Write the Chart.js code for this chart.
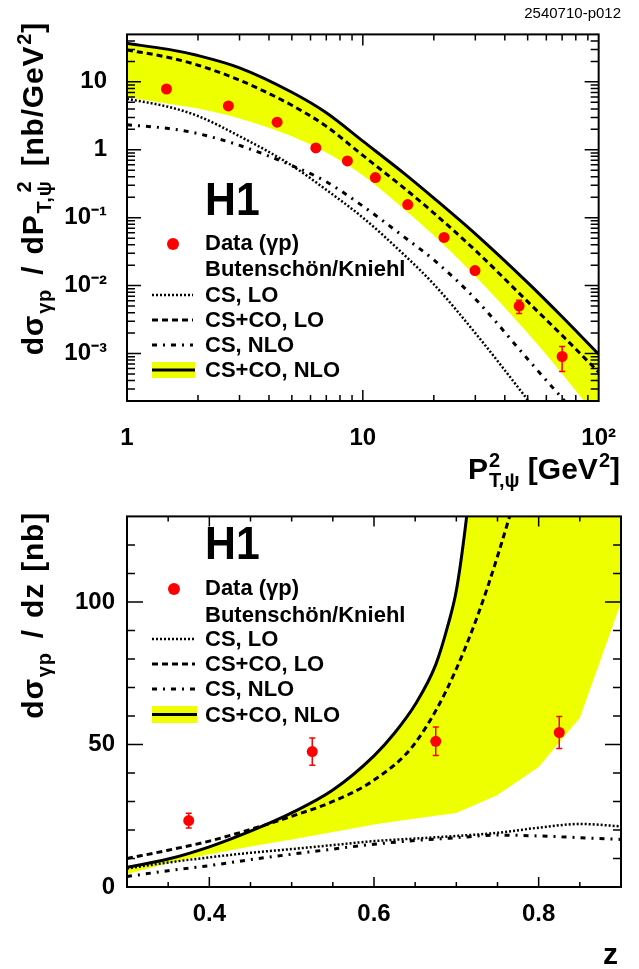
<!DOCTYPE html>
<html><head><meta charset="utf-8">
<script src="https://cdn.jsdelivr.net/npm/chart.js@4.4.1/dist/chart.umd.min.js"></script>
<style>
html,body{margin:0;padding:0;background:#fff;}
body{width:639px;height:969px;position:relative;overflow:hidden;font-family:"Liberation Sans",Arial,Helvetica,sans-serif;font-weight:bold;color:#000;}
canvas{position:absolute;left:0;}
#c1{top:0;} #c2{top:490px;}
.t{position:absolute;white-space:nowrap;}
.ttl{font-size:30px;line-height:30px;}
.sb{position:relative;top:8px;font-size:20px;margin-left:1px;}
.sp{position:relative;top:-12px;font-size:20px;margin-left:1px;}
.ss{display:inline-grid;font-size:20px;line-height:20px;margin-left:1px;}
.ss>span{grid-area:1/1;position:relative;}
.ss>.u{top:-12px;} .ss>.d{top:8px;}
.yt{left:0;top:0;width:420px;text-align:right;transform-origin:0 0;word-spacing:2px;letter-spacing:0.8px;}
.yt .sb,.yt .ss{margin-right:3px;}
#yt1{transform:translate(18px,442px) rotate(-90deg);}
#yt2{transform:translate(18px,932px) rotate(-90deg);}
.lg{font-size:22px;line-height:22px;}
.h1{font-size:46px;line-height:46px;transform:scaleX(0.93);transform-origin:0 0;}
#id{font-weight:normal;font-size:15px;line-height:15px;right:18px;top:5px;}
svg{position:absolute;left:0;top:0;}
</style>
</head><body>
<canvas id="c1" width="639" height="490"></canvas>
<canvas id="c2" width="639" height="479"></canvas>

<div class="t" id="id">2540710-p012</div>
<div class="t ttl yt" id="yt1">dσ<span class="sb">γp</span> / dP<span class="ss"><span class="u">2</span><span class="d">T,ψ</span></span> [nb/GeV<span class="sp">2</span>]</div>
<div class="t ttl yt" id="yt2">dσ<span class="sb">γp</span> / dz [nb]</div>
<div class="t ttl" style="right:19px;top:454px;">P<span class="ss"><span class="u">2</span><span class="d">T,ψ</span></span> [GeV<span class="sp">2</span>]</div>
<div class="t ttl" style="right:21px;top:939px;">z</div>

<div class="t h1" style="left:205px;top:176px;">H1</div>
<div class="t lg" style="left:205px;top:232px;">Data (γp)</div>
<div class="t lg" style="left:205px;top:258px;">Butenschön/Kniehl</div>
<div class="t lg" style="left:205px;top:284px;">CS, LO</div>
<div class="t lg" style="left:205px;top:309px;">CS+CO, LO</div>
<div class="t lg" style="left:205px;top:334px;">CS, NLO</div>
<div class="t lg" style="left:205px;top:359px;">CS+CO, NLO</div>

<div class="t h1" style="left:205px;top:520px;">H1</div>
<div class="t lg" style="left:205px;top:577px;">Data (γp)</div>
<div class="t lg" style="left:205px;top:604px;">Butenschön/Kniehl</div>
<div class="t lg" style="left:205px;top:628px;">CS, LO</div>
<div class="t lg" style="left:205px;top:653px;">CS+CO, LO</div>
<div class="t lg" style="left:205px;top:678px;">CS, NLO</div>
<div class="t lg" style="left:205px;top:704px;">CS+CO, NLO</div>

<svg width="639" height="969">
  <g>
    <circle cx="173" cy="244" r="6" fill="#ff0000"/>
    <line x1="152" x2="193" y1="295" y2="295" stroke="#000" stroke-width="2.5" stroke-dasharray="2 2"/>
    <line x1="152" x2="193" y1="320" y2="320" stroke="#000" stroke-width="3" stroke-dasharray="6 4"/>
    <line x1="152" x2="193" y1="345" y2="345" stroke="#000" stroke-width="3" stroke-dasharray="5 6 2 6"/>
    <rect x="152" y="362" width="43" height="16" fill="rgb(238,255,0)"/>
    <line x1="152" x2="195" y1="370" y2="370" stroke="#000" stroke-width="3"/>
  </g>
  <g>
    <circle cx="174" cy="589" r="6" fill="#ff0000"/>
    <line x1="152" x2="195" y1="639" y2="639" stroke="#000" stroke-width="2.5" stroke-dasharray="2 2"/>
    <line x1="152" x2="195" y1="664" y2="664" stroke="#000" stroke-width="3" stroke-dasharray="6 4"/>
    <line x1="152" x2="195" y1="689" y2="689" stroke="#000" stroke-width="3" stroke-dasharray="5 6 2 6"/>
    <rect x="152" y="706" width="45" height="17" fill="rgb(238,255,0)"/>
    <line x1="152" x2="197" y1="714.5" y2="714.5" stroke="#000" stroke-width="3"/>
  </g>
</svg>

<script>
// ---------------- data : top panel, d sigma / d P_T^2 ----------------
const pt2Centers = [1.47, 2.69, 4.33, 6.32, 8.6, 11.3, 15.5, 22.1, 29.9, 46.0, 70.0];
const pt2Data    = [7.85, 4.42, 2.55, 1.065, 0.686, 0.39, 0.156, 0.0513, 0.01664, 0.0050, 0.000904];
const pt2Err     = [0.55, 0.30, 0.17, 0.07, 0.045, 0.026, 0.011, 0.0038, 0.0013, 0.0011, 0.00036];
const pt2Grid    = [1, 1.5, 2, 3, 5, 7, 10, 15, 20, 30, 50, 70, 100];
const pt2CsLo    = [5.63, 4.28, 3.14, 1.585, 0.587, 0.257, 0.1004, 0.0282, 0.01047, 0.0020, 0.000208, 4.45e-5, 8.5e-6];
const pt2CsCoLo  = [29.5, 22.9, 17.6, 10.6, 4.52, 2.21, 0.826, 0.271, 0.1172, 0.033, 0.0058, 0.00185, 0.000532];
const pt2CsNlo   = [2.33, 2.06, 1.73, 1.16, 0.587, 0.338, 0.148, 0.0518, 0.0239, 0.00637, 0.000828, 0.00022, 5.5e-5];
const pt2CsCoNlo = [36.7, 30.1, 24.4, 16.1, 7.03, 3.51, 1.34, 0.446, 0.1945, 0.0578, 0.01107, 0.00348, 0.000975];
const pt2CsCoNloLow = [5.95, 4.77, 4.05, 2.90, 1.585, 0.912, 0.422, 0.1324, 0.0547, 0.01377, 0.0020, 0.000504, 0.000107];
const pt2XTicks  = [1, 10, 100];
const pt2XLabels = ['1', '10', '10²'];
const pt2YTicks  = [0.001, 0.01, 0.1, 1, 10];
const pt2YLabels = ['10⁻³', '10⁻²', '10⁻¹', '1', '10'];

// ---------------- data : bottom panel, d sigma / dz ----------------
const zCenters = [0.375, 0.525, 0.675, 0.825];
const zData    = [23.3, 47.5, 51.1, 54.2];
const zErr     = [2.6, 4.8, 5.0, 5.6];
const zGrid    = [0.30, 0.35, 0.40, 0.45, 0.50, 0.55, 0.60, 0.65, 0.70, 0.75, 0.80, 0.85, 0.90];
const zCsLo    = [6.5, 8.6, 10.4, 12.0, 13.3, 14.7, 16.1, 17.0, 17.9, 19.0, 20.8, 22.1, 21.3];
const zCsCoLo  = [10.0, 12.9, 16.1, 20.2, 24.8, 30.0, 37.5, 50.5, 76.5, 116, 170, 250, 350];
const zCsNlo   = [3.7, 5.7, 7.5, 9.6, 11.5, 13.3, 15.0, 16.3, 17.3, 18.2, 17.9, 17.3, 16.7];
const zGridNlo = [0.30, 0.35, 0.40, 0.45, 0.50, 0.55, 0.60, 0.625, 0.65, 0.675, 0.69, 0.70, 0.71, 0.72, 0.75, 0.80, 0.90];
const zCsCoNlo = [6.9, 9.8, 14.1, 19.6, 26.0, 34.0, 46.0, 54.0, 64.0, 78.0, 92.0, 104.0, 124.0, 150.0, 260, 500, 1500];
const zCsCoNloLow = [4.6, 8.3, 11.5, 14.2, 16.7, 19.3, 21.9, 24.0, 26.0, 32.3, 42.1, 59.4, 99.8];
const zXTicks  = [0.4, 0.6, 0.8];
const zXLabels = ['0.4', '0.6', '0.8'];
const zYTicks  = [0, 50, 100];
const zYLabels = ['0', '50', '100'];

// ---------------- styling ----------------
const FONT = "'Liberation Sans', Arial, Helvetica, sans-serif";
const YELLOW = 'rgb(238,255,0)';
const RED = '#ff0000';
const pts = (xs, ys) => xs.map((x, i) => ({x, y: ys[i]}));

const minorLog = (lo, hi) => { const r = []; for (let e = lo; e <= hi; e++) for (let k = 2; k <= 9; k++) r.push(k * Math.pow(10, e)); return r; };

const frameTicks = {
  id: 'frameTicks',
  afterDatasetsDraw(chart, args, o) {
    const {ctx, chartArea: a} = chart;
    const xs = chart.scales.x, ys = chart.scales.y;
    ctx.save();
    ctx.strokeStyle = '#000';
    ctx.lineWidth = 1.5;
    ctx.beginPath();
    const vx = (vals, len) => vals.forEach(v => {
      const p = xs.getPixelForValue(v);
      if (p <= a.left + 1 || p >= a.right - 1) return;
      ctx.moveTo(p, a.bottom); ctx.lineTo(p, a.bottom - len);
      ctx.moveTo(p, a.top); ctx.lineTo(p, a.top + len);
    });
    const vy = (vals, len) => vals.forEach(v => {
      const p = ys.getPixelForValue(v);
      if (p <= a.top + 1 || p >= a.bottom - 1) return;
      ctx.moveTo(a.left, p); ctx.lineTo(a.left + len, p);
      ctx.moveTo(a.right, p); ctx.lineTo(a.right - len, p);
    });
    vx(o.xMajor, o.xMajorLen); vx(o.xMinor, o.xMinorLen);
    vy(o.yMajor, o.yMajorLen); vy(o.yMinor, o.yMinorLen);
    ctx.stroke();
    ctx.lineWidth = 2;
    ctx.strokeRect(a.left, a.top, a.right - a.left, a.bottom - a.top);
    ctx.restore();
  }
};

const errorBars = {
  id: 'errorBars',
  beforeDatasetDraw(chart, args, o) {
    if (args.index !== o.index) return;
    const {ctx, chartArea: a} = chart;
    const xs = chart.scales.x, ys = chart.scales.y;
    const data = chart.data.datasets[o.index].data;
    ctx.save();
    ctx.beginPath(); ctx.rect(a.left, a.top, a.right - a.left, a.bottom - a.top); ctx.clip();
    ctx.strokeStyle = RED; ctx.lineWidth = 1.5;
    ctx.beginPath();
    data.forEach((d, i) => {
      const e = o.errors[i];
      const px = xs.getPixelForValue(d.x);
      const y1 = ys.getPixelForValue(d.y + e), y2 = ys.getPixelForValue(d.y - e);
      ctx.moveTo(px, y1); ctx.lineTo(px, y2);
      ctx.moveTo(px - 3, y1); ctx.lineTo(px + 3, y1);
      ctx.moveTo(px - 3, y2); ctx.lineTo(px + 3, y2);
    });
    ctx.stroke();
    ctx.restore();
  }
};

function tickFont() { return {family: FONT, size: 24, weight: 'bold'}; }

function datasets(cx, cy, grid, lo, colo, nlo, gridNlo, conlo, conloLow, smoothLow) {
  return [
    {label: 'Data (γp)', data: pts(cx, cy), showLine: false, pointRadius: 5.5, pointBorderWidth: 0,
     pointBackgroundColor: RED, pointBorderColor: RED, order: 0, clip: false},
    {label: 'CS, LO', data: pts(grid, lo), borderColor: '#000', borderWidth: 2.5, borderDash: [2, 2],
     pointRadius: 0, cubicInterpolationMode: 'monotone', fill: false, order: 2, clip: 0},
    {label: 'CS+CO, LO', data: pts(grid, colo), borderColor: '#000', borderWidth: 3, borderDash: [6, 4],
     pointRadius: 0, cubicInterpolationMode: 'monotone', fill: false, order: 1, clip: 0},
    {label: 'CS, NLO', data: pts(grid, nlo), borderColor: '#000', borderWidth: 3, borderDash: [5, 6, 2, 6],
     pointRadius: 0, cubicInterpolationMode: 'monotone', fill: false, order: 3, clip: 0},
    {label: 'CS+CO, NLO', data: pts(gridNlo, conlo), borderColor: '#000', borderWidth: 3,
     pointRadius: 0, cubicInterpolationMode: 'monotone', fill: {target: 5}, backgroundColor: YELLOW, order: 4, clip: 0},
    {label: 'CS+CO, NLO (band edge)', data: pts(grid, conloLow), borderColor: 'rgba(0,0,0,0)', borderWidth: 0,
     pointRadius: 0, cubicInterpolationMode: smoothLow ? 'monotone' : 'default', tension: 0, fill: false, order: 5, clip: 0}
  ];
}

function axis(type, min, max, tickVals, tickLabels, pad, fitFn) {
  return {
    type, min, max,
    grid: {display: false, drawTicks: false, tickLength: 0},
    border: {display: false},
    afterBuildTicks: s => { s.ticks = tickVals.map(v => ({value: v})); },
    afterFit: fitFn,
    ticks: {autoSkip: false, maxRotation: 0, minRotation: 0, padding: pad, color: '#000', font: tickFont(),
            callback: (v, i) => tickLabels[i]}
  };
}

const common = {
  responsive: false, animation: false, events: [],
  plugins: {legend: {display: false}, tooltip: {enabled: false}}
};

new Chart(document.getElementById('c1'), {
  type: 'line',
  data: {datasets: datasets(pt2Centers, pt2Data, pt2Grid, pt2CsLo, pt2CsCoLo, pt2CsNlo, pt2Grid, pt2CsCoNlo, pt2CsCoNloLow, true)},
  plugins: [errorBars, frameTicks],
  options: Object.assign({}, common, {
    layout: {padding: {top: 25, right: 18, left: 0, bottom: 0}},
    plugins: Object.assign({}, common.plugins, {
      errorBars: {index: 0, errors: pt2Err},
      frameTicks: {xMajor: pt2XTicks, xMinor: minorLog(0, 1), xMajorLen: 11, xMinorLen: 6,
                   yMajor: pt2YTicks, yMinor: minorLog(-4, 1), yMajorLen: 14, yMinorLen: 8}
    }),
    scales: {
      x: axis('logarithmic', 1, 100, pt2XTicks, pt2XLabels, 23, s => { s.height = 89; }),
      y: axis('logarithmic', 2e-4, 50, pt2YTicks, pt2YLabels, 20, s => { s.width = 127; })
    }
  })
});

new Chart(document.getElementById('c2'), {
  type: 'line',
  data: {datasets: datasets(zCenters, zData, zGrid, zCsLo, zCsCoLo, zCsNlo, zGridNlo, zCsCoNlo, zCsCoNloLow, false)},
  plugins: [errorBars, frameTicks],
  options: Object.assign({}, common, {
    layout: {padding: {top: 22, right: 18, left: 0, bottom: 0}},
    plugins: Object.assign({}, common.plugins, {
      errorBars: {index: 0, errors: zErr},
      frameTicks: {xMajor: zXTicks, xMinor: [0.35, 0.45, 0.5, 0.55, 0.65, 0.7, 0.75, 0.85], xMajorLen: 10, xMinorLen: 5,
                   yMajor: zYTicks, yMinor: [10, 20, 30, 40, 60, 70, 80, 90, 110, 120], yMajorLen: 16, yMinorLen: 8}
    }),
    scales: {
      x: axis('linear', 0.3, 0.9, zXTicks, zXLabels, 13, s => { s.height = 82; }),
      y: axis('linear', 0, 130, zYTicks, zYLabels, 12, s => { s.width = 127; })
    }
  })
});
</script>
</body></html>
